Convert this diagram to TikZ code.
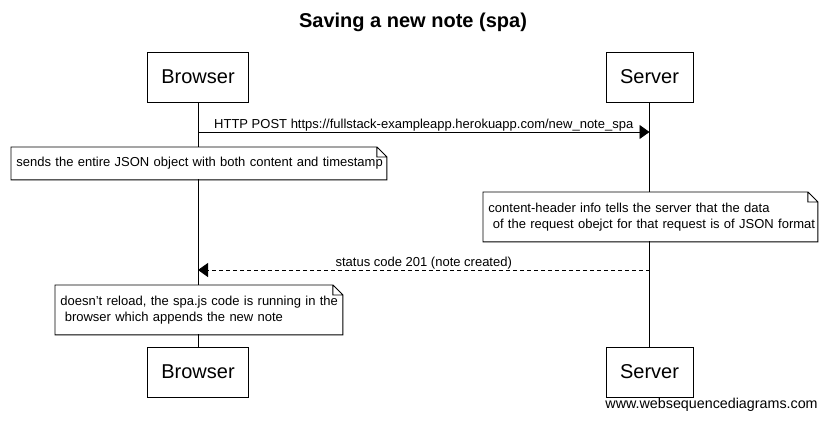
\documentclass[tikz,border=0pt]{standalone}
\usepackage{fontspec}
\setmainfont{Liberation Sans}
\usetikzlibrary{arrows.meta,positioning}
\tikzset{
    participant/.style = {
        draw,
        minimum height=50pt,
        inner xsep=14pt,
        font=\fontsize{20}{24}\selectfont,
        },
    message/.style = {
        -{Triangle[length=10pt,width=14pt]},
        },
    reply/.style = {
        message,
        dash pattern=on 4pt off 3pt,
        },
    msglabel/.style = {
        anchor=base,
        inner sep=0pt,
        yshift=4pt,
        font=\fontsize{13}{16}\selectfont,
        },
    note/.style = {
        fill=white,
        anchor=north west,
        align=left,
        inner xsep=5pt,
        inner ysep=0pt,
        font=\fontsize{13}{16}\selectfont,
        },
}

\begin{document}
\begin{tikzpicture}[x=1pt, y=-1pt, line width=0.9pt]
    \useasboundingbox (0,0) rectangle (826,421);

    \node[font=\fontsize{20}{24}\selectfont\bfseries] (title) at (413,22) {Saving a new note (spa)};

    % participants
    \node[participant] (browserTop) at (198,77) {Browser};
    \node[participant] (serverTop) at (649.5,77) {Server};
    \node[participant] (browserBot) at (198,372) {Browser};
    \node[participant] (serverBot) at (649.5,372) {Server};

    \draw (browserTop) -- (browserBot);
    \draw (serverTop) -- (serverBot);

    % messages
    \coordinate (postStart) at (198,132);
    \coordinate (postEnd) at (649.5,132);
    \coordinate (replyStart) at (649.5,270);
    \coordinate (replyEnd) at (198,270);

    \draw[message] (postStart) -- node[msglabel] {HTTP POST https://fullstack-exampleapp.herokuapp.com/new\_note\_spa} (postEnd);
    \draw[reply] (replyStart) -- node[msglabel] {status code 201 (note created)} (replyEnd);

    % notes
    \node[note, text width=365pt, minimum height=32pt] (sendNote) at (11,147)
        {\mbox{sends the entire JSON object with both content and timestamp}};
    \node[note, text width=324pt, minimum height=49pt] (headerNote) at (483,192)
        {\mbox{content-header info tells the server that the data}\\
         \mbox{\ of the request obejct for that request is of JSON format}};
    \node[note, text width=277pt, minimum height=49pt] (reloadNote) at (55,285)
        {\mbox{doesn't reload, the spa.js code is running in the}\\
         \mbox{\ browser which appends the new note}};

    \foreach \n in {sendNote,headerNote,reloadNote}
        \draw (\n.north west) -- ([xshift=-10pt]\n.north east) -- ([yshift=-10pt]\n.north east)
              -- (\n.south east) -- (\n.south west) -- cycle
              ([xshift=-10pt]\n.north east) |- ([yshift=-10pt]\n.north east);

    \node[anchor=west, inner sep=0pt, font=\fontsize{14.3}{16}\selectfont] (footer) at (605,405) {www.websequencediagrams.com};
\end{tikzpicture}
\end{document}
